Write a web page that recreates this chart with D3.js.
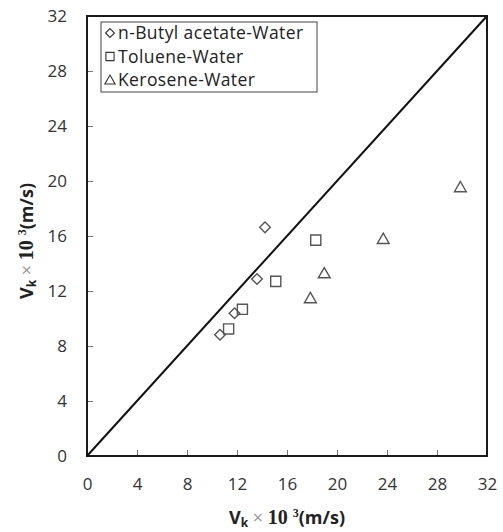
<!DOCTYPE html>
<html>
<head>
<meta charset="utf-8">
<script src="https://cdn.jsdelivr.net/npm/d3@7"></script>
<style>
  body { margin: 0; background: #fff; }
  text { font-family: "Open Sans", "Noto Sans", sans-serif; }
</style>
</head>
<body>
<div id="chart"></div>
<script>
const butylX = [10.64, 11.8, 13.6, 14.24];
const butylY = [8.82, 10.38, 12.87, 16.63];
const tolueneX = [11.33, 12.43, 15.1, 18.3];
const tolueneY = [9.24, 10.67, 12.7, 15.7];
const keroseneX = [17.87, 18.98, 23.7, 29.87];
const keroseneY = [11.47, 13.28, 15.78, 19.54];
const seriesNames = ['n-Butyl acetate-Water', 'Toluene-Water', 'Kerosene-Water'];
const tickValues = [0, 4, 8, 12, 16, 20, 24, 28, 32];

const W = 503, H = 532;
const margin = { top: 16, right: 16, bottom: 76, left: 87 };
const iw = W - margin.left - margin.right;
const ih = H - margin.top - margin.bottom;

const svg = d3.select('#chart').append('svg')
  .attr('width', W).attr('height', H);

const g = svg.append('g')
  .attr('transform', `translate(${margin.left},${margin.top})`);

const x = d3.scaleLinear().domain([0, 32]).range([0, iw]);
const y = d3.scaleLinear().domain([0, 32]).range([ih, 0]);

// axes with inward ticks
const xAxis = g.append('g')
  .attr('transform', `translate(0,${ih})`)
  .call(d3.axisBottom(x).tickValues(tickValues).tickSize(-6).tickPadding(22));
const yAxis = g.append('g')
  .call(d3.axisLeft(y).tickValues(tickValues).tickSize(-6).tickPadding(20));

[xAxis, yAxis].forEach(a => {
  a.select('.domain').remove();
  a.selectAll('.tick line').attr('stroke', '#777').attr('stroke-width', 1);
  a.selectAll('.tick text')
    .attr('fill', '#333')
    .style('font-size', '17px');
});

// frame
g.append('rect')
  .attr('width', iw).attr('height', ih)
  .attr('fill', 'none')
  .attr('stroke', '#1a1a1a')
  .attr('stroke-width', 2);

// 1:1 line
g.append('line')
  .attr('x1', x(0)).attr('y1', y(0))
  .attr('x2', x(32)).attr('y2', y(32))
  .attr('stroke', '#111')
  .attr('stroke-width', 2);

// markers
const shapes = [
  d3.symbol().type(d3.symbolDiamond2).size(72),
  d3.symbol().type(d3.symbolSquare2).size(130),
  d3.symbol().type(d3.symbolTriangle2).size(100)
];
const series = [
  butylX.map((v, i) => [v, butylY[i]]),
  tolueneX.map((v, i) => [v, tolueneY[i]]),
  keroseneX.map((v, i) => [v, keroseneY[i]])
];

series.forEach((pts, s) => {
  g.selectAll(`.pt${s}`)
    .data(pts)
    .enter().append('path')
    .attr('class', `pt${s}`)
    .attr('d', shapes[s])
    .attr('transform', d => `translate(${x(d[0])},${y(d[1]) + (s === 2 ? 1 : 0)})`)
    .attr('fill', 'none')
    .attr('stroke', '#555')
    .attr('stroke-width', 1.4);
});

// legend
const legend = g.append('g').attr('transform', 'translate(14,6)');
legend.append('rect')
  .attr('width', 216).attr('height', 70)
  .attr('fill', '#fff')
  .attr('stroke', '#444')
  .attr('stroke-width', 1);

const legendShapes = [
  d3.symbol().type(d3.symbolDiamond2).size(50),
  d3.symbol().type(d3.symbolSquare2).size(85),
  d3.symbol().type(d3.symbolTriangle2).size(75)
];
seriesNames.forEach((name, i) => {
  const row = legend.append('g').attr('transform', `translate(0,${11 + i * 23.5})`);
  row.append('path')
    .attr('d', legendShapes[i])
    .attr('transform', `translate(9,${i === 2 ? 1 : 0})`)
    .attr('fill', 'none')
    .attr('stroke', '#333')
    .attr('stroke-width', 1.1);
  row.append('text')
    .attr('x', 17).attr('y', 6)
    .attr('fill', '#222')
    .style('font-size', '17.5px')
    .style('letter-spacing', '0.4px')
    .text(name);
});

// axis titles
function title(sel) {
  sel.style('font-size', '18px').attr('fill', '#222').attr('text-anchor', 'middle');
  sel.append('tspan').attr('font-weight', 'bold').text('V');
  sel.append('tspan').attr('font-weight', 'bold').attr('dy', 3).style('font-size', '12px').text('k');
  sel.append('tspan').attr('dy', -3).attr('fill', '#999').text(' \u00d7 ');
  sel.append('tspan').attr('font-weight', 'bold')
    .style('font-family', '"Liberation Serif", serif').style('font-size', '20px').text('10 ');
  sel.append('tspan').attr('dy', -7).style('font-size', '12px').attr('font-weight', 'bold')
    .style('font-family', '"Liberation Serif", serif').text('3');
  sel.append('tspan').attr('dy', 7).attr('font-weight', 'bold').text('(m/s)');
}

svg.append('text')
  .attr('x', margin.left + iw / 2)
  .attr('y', 524)
  .call(title);

svg.append('text')
  .attr('transform', `translate(33,${margin.top + ih / 2 + 5}) rotate(-90)`)
  .call(title);
</script>
</body>
</html>
